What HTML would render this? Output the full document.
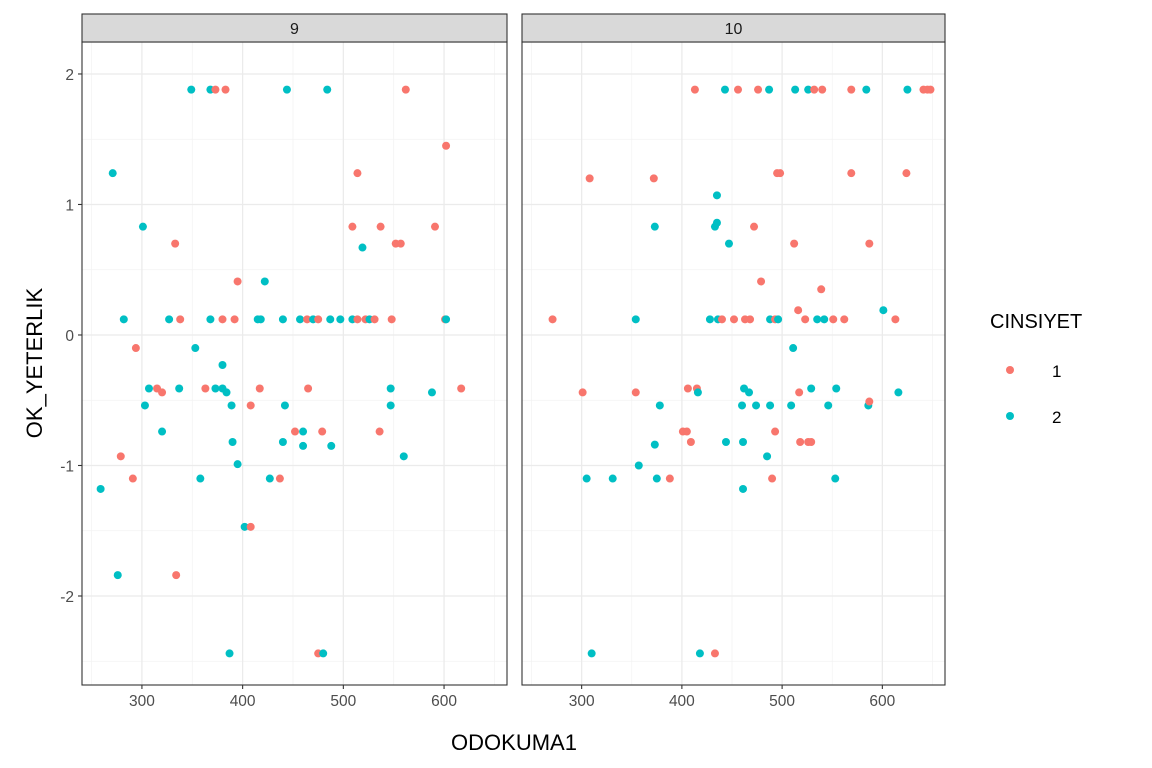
<!DOCTYPE html>
<html><head><meta charset="utf-8">
<style>
html,body{margin:0;padding:0;background:#fff;}
svg{display:block;font-family:"Liberation Sans",Arial,sans-serif;}
</style></head>
<body>
<svg id="chart" width="1152" height="768" xmlns="http://www.w3.org/2000/svg">
<g id="panels"></g>
<text x="514" y="750" font-size="22" text-anchor="middle" fill="#000">ODOKUMA1</text>
<text transform="translate(42,363) rotate(-90)" font-size="22" text-anchor="middle" fill="#000">OK_YETERLIK</text>
<g>
<text x="990" y="328" font-size="20" fill="#000">CINSIYET</text>
<circle cx="1010" cy="370" r="4" fill="#F8766D"/>
<text x="1052" y="377" font-size="17" fill="#000">1</text>
<circle cx="1010" cy="416" r="4" fill="#00BFC4"/>
<text x="1052" y="423" font-size="17" fill="#000">2</text>
</g>
</svg>
<script>
const facets = ["9","10"];
const xTicks = [300,400,500,600];
const yTicks = [2,1,0,-1,-2];
// grade 9 panel
const g9x = [259,271,279,276,282,291,294,301,303,307,315,320,320,327,333,338,337,334,349,353,358,363,368,368,373,373,380,380,380,383,384,387,389,390,392,395,395,402,408,408,415,417,418,422,427,437,440,440,442,444,452,457,460,460,465,464,470,475,475,480,479,484,487,488,497,509,509,514,514,519,522,526,531,536,537,548,547,547,552,557,560,562,588,591,601,602,602,617];
const g9y = [-1.18,1.24,-0.93,-1.84,0.12,-1.1,-0.1,0.83,-0.54,-0.41,-0.41,-0.44,-0.74,0.12,0.7,0.12,-0.41,-1.84,1.88,-0.1,-1.1,-0.41,0.12,1.88,1.88,-0.41,0.12,-0.23,-0.41,1.88,-0.44,-2.44,-0.54,-0.82,0.12,0.41,-0.99,-1.47,-1.47,-0.54,0.12,-0.41,0.12,0.41,-1.1,-1.1,-0.82,0.12,-0.54,1.88,-0.74,0.12,-0.74,-0.85,-0.41,0.12,0.12,-2.44,0.12,-2.44,-0.74,1.88,0.12,-0.85,0.12,0.83,0.12,1.24,0.12,0.67,0.12,0.12,0.12,-0.74,0.83,0.12,-0.41,-0.54,0.7,0.7,-0.93,1.88,-0.44,0.83,0.12,1.45,0.12,-0.41];
const g9c = [2,2,1,2,2,1,1,2,2,2,1,1,2,2,1,1,2,1,2,2,2,1,2,2,1,2,1,2,2,1,2,2,2,2,1,1,2,2,1,1,2,1,2,2,2,1,2,2,2,2,1,2,2,2,1,1,2,1,1,2,1,2,2,2,2,1,2,1,1,2,1,2,1,1,1,1,2,2,1,1,2,1,2,1,1,1,2,1];
// grade 10 panel
const g10x = [271,301,305,308,310,331,354,354,357,372,373,373,375,378,388,401,405,406,409,413,415,416,418,428,433,433,435,435,436,440,443,444,447,452,456,460,461,461,462,463,467,468,472,474,476,479,485,487,488,488,490,493,493,495,498,496,509,511,512,513,516,517,518,523,526,526,529,529,532,535,539,540,542,546,551,553,554,562,569,569,584,587,586,587,601,613,616,624,625,641,645,648];
const g10y = [0.12,-0.44,-1.1,1.2,-2.44,-1.1,0.12,-0.44,-1.0,1.2,0.83,-0.84,-1.1,-0.54,-1.1,-0.74,-0.74,-0.41,-0.82,1.88,-0.41,-0.44,-2.44,0.12,-2.44,0.83,0.86,1.07,0.12,0.12,1.88,-0.82,0.7,0.12,1.88,-0.54,-0.82,-1.18,-0.41,0.12,-0.44,0.12,0.83,-0.54,1.88,0.41,-0.93,1.88,0.12,-0.54,-1.1,-0.74,0.12,1.24,1.24,0.12,-0.54,-0.1,0.7,1.88,0.19,-0.44,-0.82,0.12,1.88,-0.82,-0.82,-0.41,1.88,0.12,0.35,1.88,0.12,-0.54,0.12,-1.1,-0.41,0.12,1.88,1.24,1.88,0.7,-0.54,-0.51,0.19,0.12,-0.44,1.24,1.88,1.88,1.88,1.88];
const g10c = [1,1,2,1,2,2,2,1,2,1,2,2,2,2,1,1,1,1,1,1,1,2,2,2,1,2,2,2,2,1,2,2,2,1,1,2,2,2,2,1,2,1,1,2,1,1,2,2,2,2,1,1,1,1,1,2,2,2,1,2,1,1,1,1,2,1,1,2,1,2,1,1,2,2,1,2,2,1,1,1,2,1,2,1,2,1,2,1,2,1,1,1];

const NS="http://www.w3.org/2000/svg";
const colors={1:"#F8766D",2:"#00BFC4"};
const panelBoxes=[{x0:82,x1:507},{x0:522,x1:945}];
const pTop=42,pBottom=685,stripTop=14;
const xMin=240.5,xMax=662.5,yMin=-2.682,yMax=2.245;
function mk(tag,attrs,parent){const e=document.createElementNS(NS,tag);for(const k in attrs)e.setAttribute(k,attrs[k]);parent.appendChild(e);return e;}
const root=document.getElementById('panels');
const datasets=[[g9x,g9y,g9c],[g10x,g10y,g10c]];
panelBoxes.forEach((b,pi)=>{
  const sx=v=>b.x0+(v-xMin)/(xMax-xMin)*(b.x1-b.x0);
  const sy=v=>pBottom-(v-yMin)/(yMax-yMin)*(pBottom-pTop);
  const g=mk('g',{},root);
  
  
  mk('rect',{x:b.x0,y:pTop,width:b.x1-b.x0,height:pBottom-pTop,fill:'#fff'},g);
  for(let v=250;v<=650;v+=100){mk('line',{x1:sx(v),x2:sx(v),y1:pTop,y2:pBottom,stroke:'#f2f2f2','stroke-width':0.7},g);}
  for(let v=-2.5;v<=1.5;v+=1){mk('line',{x1:b.x0,x2:b.x1,y1:sy(v),y2:sy(v),stroke:'#f2f2f2','stroke-width':0.7},g);}
  xTicks.forEach(v=>{mk('line',{x1:sx(v),x2:sx(v),y1:pTop,y2:pBottom,stroke:'#ebebeb','stroke-width':1.3},g);});
  yTicks.forEach(v=>{mk('line',{x1:b.x0,x2:b.x1,y1:sy(v),y2:sy(v),stroke:'#ebebeb','stroke-width':1.3},g);});
  const [xs,ys,cs]=datasets[pi];
  xs.forEach((xv,i)=>{
    const c=mk('circle',{cx:sx(xv),cy:sy(ys[i]),r:4,fill:colors[cs[i]]},g);
    
    
  });
  mk('rect',{x:b.x0,y:pTop,width:b.x1-b.x0,height:pBottom-pTop,fill:'none',stroke:'#333','stroke-width':1.1},g);
  const st=mk('rect',{x:b.x0,y:stripTop,width:b.x1-b.x0,height:pTop-stripTop,fill:'#d9d9d9',stroke:'#333','stroke-width':1.1},g);
  
  
  const tt=mk('text',{x:(b.x0+b.x1)/2,y:34,'font-size':16,'text-anchor':'middle',fill:'#1a1a1a'},g);
  tt.textContent=facets[pi];
  
  
  xTicks.forEach(v=>{
    mk('line',{x1:sx(v),x2:sx(v),y1:pBottom,y2:pBottom+4,stroke:'#333','stroke-width':1.1},g);
    const t=mk('text',{x:sx(v),y:pBottom+21,'font-size':15.5,'text-anchor':'middle',fill:'#4d4d4d'},g);
    t.textContent=v;
    
    
  });
  if(pi===0){
    yTicks.forEach(v=>{
      mk('line',{x1:b.x0-4,x2:b.x0,y1:sy(v),y2:sy(v),stroke:'#333','stroke-width':1.1},g);
      const t=mk('text',{x:b.x0-8,y:sy(v)+6,'font-size':15.5,'text-anchor':'end',fill:'#4d4d4d'},g);
      t.textContent=v;
      
      
    });
  }
});
</script>
</body></html>
